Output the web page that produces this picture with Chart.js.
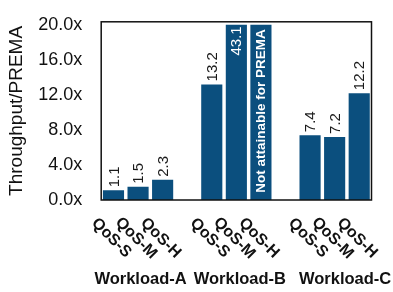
<!DOCTYPE html>
<html><head><meta charset="utf-8">
<script src="https://cdn.jsdelivr.net/npm/chart.js@4.4.1/dist/chart.umd.min.js"></script>
<style>html,body{margin:0;padding:0;background:#fff}#wrap{width:393px;height:292px}</style>
</head><body><div id="wrap"><canvas id="c" width="393" height="292"></canvas></div>
<script>
const categories = ['QoS-S','QoS-M','QoS-H','','QoS-S','QoS-M','QoS-H','','QoS-S','QoS-M','QoS-H'];
const throughput = [1.1, 1.5, 2.3, null, 13.2, 43.1, null, null, 7.4, 7.2, 12.2];
const notAttainable = [false,false,false,false,false,false,true,false,false,false,false];
const workloads = ['Workload-A','Workload-B','Workload-C'];
const workloadCenters = [1, 5, 9];
const yTicks = [0, 4, 8, 12, 16, 20];
const yCap = 20;

const plotted = throughput.map((v, i) => notAttainable[i] ? yCap : (v == null ? null : Math.min(v, yCap)));
const FONT = '"Liberation Sans", Arial, Helvetica, sans-serif';
const BAR = '#0b4f7e';

const deco = {
  id: 'deco',
  afterDatasetsDraw(chart) {
    const ctx = chart.ctx, a = chart.chartArea, meta = chart.getDatasetMeta(0);
    ctx.save();
    meta.data.forEach((bar, i) => {
      const v = throughput[i];
      ctx.save();
      if (notAttainable[i]) {
        ctx.translate(bar.x + 0.5, (a.top + a.bottom) / 2);
        ctx.rotate(-Math.PI / 2);
        ctx.font = 'bold 13.5px ' + FONT;
        ctx.fillStyle = '#fff';
        ctx.textAlign = 'center';
        ctx.textBaseline = 'middle';
        ctx.fillText('Not attainable for PREMA', 0, 0);
      } else if (v != null && v > yCap) {
        ctx.translate(bar.x + 1, bar.y + 1.5);
        ctx.rotate(-Math.PI / 2);
        ctx.font = '15px ' + FONT;
        ctx.fillStyle = '#fff';
        ctx.textAlign = 'right';
        ctx.textBaseline = 'middle';
        ctx.fillText(v.toFixed(1), 0, 0);
      } else if (v != null) {
        ctx.translate(bar.x + 1, bar.y - 3);
        ctx.rotate(-Math.PI / 2);
        ctx.font = '15px ' + FONT;
        ctx.fillStyle = '#1a1a1a';
        ctx.textAlign = 'left';
        ctx.textBaseline = 'middle';
        ctx.fillText(v.toFixed(1), 0, 0);
      }
      ctx.restore();
    });
    // frame
    ctx.strokeStyle = '#111';
    ctx.lineWidth = 1.5;
    ctx.strokeRect(a.left, a.top, a.right - a.left, a.bottom - a.top);
    // rotated category labels
    const xs = chart.scales.x;
    ctx.font = 'bold 16px ' + FONT;
    ctx.fillStyle = '#111';
    ctx.textAlign = 'center';
    ctx.textBaseline = 'middle';
    categories.forEach((c, i) => {
      if (!c) return;
      ctx.save();
      ctx.translate(xs.getPixelForValue(i) - 2, a.bottom + 38);
      ctx.rotate(Math.PI / 4);
      ctx.fillText(c, 0, 0);
      ctx.restore();
    });
    // workload group labels
    const offs = [2.5, 3.5, 10.5];
    ctx.font = 'bold 16.5px ' + FONT;
    workloads.forEach((w, k) => {
      ctx.fillText(w, xs.getPixelForValue(workloadCenters[k]) + offs[k], a.bottom + 79);
    });
    ctx.restore();
  }
};

new Chart(document.getElementById('c'), {
  type: 'bar',
  data: {
    labels: categories,
    datasets: [{ data: plotted, backgroundColor: BAR, borderWidth: 0, barPercentage: 0.86, categoryPercentage: 1 }]
  },
  options: {
    responsive: false,
    devicePixelRatio: 1,
    animation: false,
    layout: { padding: { top: 11, right: 21.5, left: 0, bottom: 0 } },
    plugins: { legend: { display: false }, tooltip: { enabled: false } },
    scales: {
      x: {
        offset: true,
        grid: { display: false },
        border: { display: false },
        ticks: { display: false },
        afterFit(s) { s.height = 92; }
      },
      y: {
        min: 0, max: 20.35,
        grid: { display: false },
        border: { display: false },
        afterBuildTicks(s) { s.ticks = yTicks.map(v => ({ value: v })); },
        ticks: {
          padding: 11,
          color: '#111',
          font: { family: FONT, size: 18 },
          callback: v => Number(v).toFixed(1) + 'x'
        },
        title: {
          display: true,
          text: 'Throughput/PREMA',
          color: '#111',
          font: { family: FONT, size: 19 },
          padding: { top: 5.5, bottom: 0 }
        },
        afterFit(s) { s.width = 101.2; }
      }
    }
  },
  plugins: [deco]
});
</script>
</body></html>
